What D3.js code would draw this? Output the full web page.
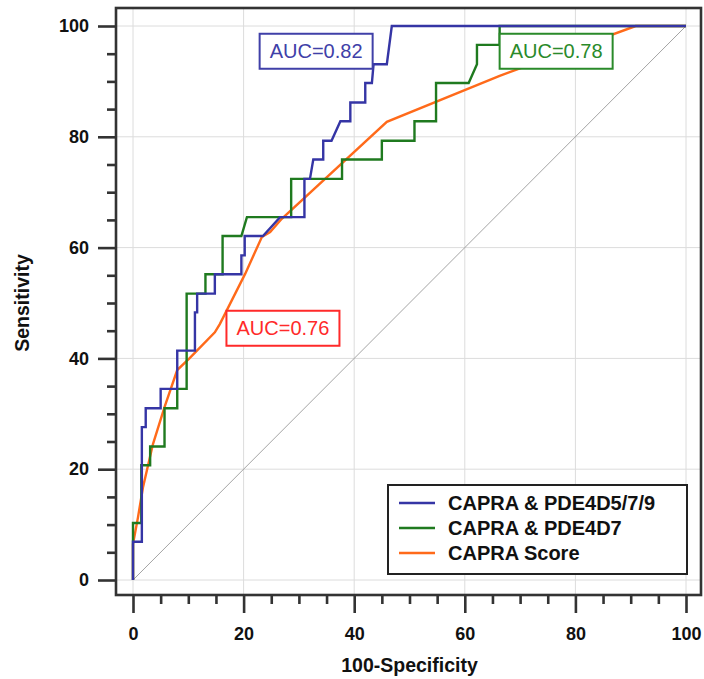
<!DOCTYPE html>
<html>
<head>
<meta charset="utf-8">
<script src="https://cdn.jsdelivr.net/npm/d3@7"></script>
<style>
  html, body { margin: 0; padding: 0; background: #fff; }
  svg { display: block; }
  text { font-family: "Liberation Sans", Arial, Helvetica, sans-serif; }
</style>
</head>
<body>
<svg id="chart" width="704" height="679"></svg>
<script>
// ROC curve coordinates: 100-Specificity (x) and Sensitivity (y), in percent
const pde4d579X = [0, 0, 1.6, 1.6, 2.3, 2.3, 5.0, 5.0, 8.0, 8.0, 11.2, 11.2, 11.6, 11.6, 14.8, 14.8, 19.6, 19.6, 20.2, 20.2, 23.5, 26.6, 31.0, 31.0, 32.0, 32.6, 34.4, 34.4, 35.9, 37.5, 39.3, 39.3, 42.0, 42.0, 43.2, 43.5, 45.9, 46.8, 100];
const pde4d579Y = [0, 6.9, 6.9, 27.6, 27.6, 31.0, 31.0, 34.5, 34.5, 41.4, 41.4, 48.3, 48.3, 51.7, 51.7, 55.2, 55.2, 58.6, 58.6, 62.1, 62.1, 65.5, 65.5, 72.4, 72.4, 75.9, 75.9, 79.3, 79.3, 82.8, 82.8, 86.2, 86.2, 89.7, 89.7, 93.1, 93.1, 100, 100];

const pde4d7X = [0, 0, 1.5, 1.5, 3.1, 3.1, 5.7, 5.7, 8.0, 8.0, 9.7, 9.7, 13.1, 13.1, 16.2, 16.2, 19.6, 20.6, 28.6, 28.6, 37.8, 37.8, 45.0, 45.0, 50.9, 50.9, 54.8, 54.8, 60.7, 62.2, 62.2, 66.3, 66.3, 100];
const pde4d7Y = [0, 10.3, 10.3, 20.7, 20.7, 24.1, 24.1, 31.0, 31.0, 34.5, 34.5, 51.7, 51.7, 55.2, 55.2, 62.1, 62.1, 65.5, 65.5, 72.4, 72.4, 75.9, 75.9, 79.3, 79.3, 82.8, 82.8, 89.7, 89.7, 93.1, 96.6, 96.6, 100, 100];

const capraX = [0, 0, 0.9, 1.8, 3.6, 5.7, 8.0, 10.2, 14.8, 15.7, 20.3, 23.3, 24.8, 26.9, 45.9, 66.3, 90.9, 100];
const capraY = [0, 6.5, 11.3, 16.7, 24.5, 31.2, 37.9, 40.0, 44.7, 46.2, 55.3, 61.9, 62.8, 65.2, 82.7, 91.0, 100, 100];

// Series names, colours and AUC labels
const seriesNames = ["CAPRA & PDE4D5/7/9", "CAPRA & PDE4D7", "CAPRA Score"];
const seriesColors = ["#3535a5", "#1f7a1f", "#ff6a1a"];
const aucLabels = ["AUC=0.82", "AUC=0.78", "AUC=0.76"];
const aucColors = ["#4040a8", "#2a8a2a", "#ff2a2a"];
// anchor of each AUC box (data units: left x, top y)
const aucAnchorX = [22.9, 66.3, 16.9];
const aucAnchorY = [98.6, 98.6, 48.6];

// Axis ticks
const majorTicks = [0, 20, 40, 60, 80, 100];
const minorTicks = [5, 10, 15, 25, 30, 35, 45, 50, 55, 65, 70, 75, 85, 90, 95];

const svg = d3.select("#chart");
const frame = { left: 116, top: 8, right: 701, bottom: 595 };

const x = d3.scaleLinear().domain([0, 100]).range([133, 686]);
const y = d3.scaleLinear().domain([0, 100]).range([580, 26]);

// grid
const grid = svg.append("g").attr("stroke", "#dcdcdc").attr("stroke-width", 1);
grid.selectAll("line.v").data(majorTicks).join("line")
  .attr("x1", d => x(d)).attr("x2", d => x(d))
  .attr("y1", frame.top).attr("y2", frame.bottom);
grid.selectAll("line.h").data(majorTicks).join("line")
  .attr("y1", d => y(d)).attr("y2", d => y(d))
  .attr("x1", frame.left).attr("x2", frame.right);

// reference diagonal
svg.append("line")
  .attr("x1", x(0)).attr("y1", y(0)).attr("x2", x(100)).attr("y2", y(100))
  .attr("stroke", "#9a9a9a").attr("stroke-width", 0.9);

// curves
const line = d3.line().x(d => x(d[0])).y(d => y(d[1]));
const curves = [
  d3.zip(pde4d579X, pde4d579Y),
  d3.zip(pde4d7X, pde4d7Y),
  d3.zip(capraX, capraY)
];
// draw order: orange under green under blue
[2, 1, 0].forEach(i => {
  svg.append("path")
    .datum(curves[i])
    .attr("d", line)
    .attr("fill", "none")
    .attr("stroke", seriesColors[i])
    .attr("stroke-width", 2.4)
    .attr("stroke-linejoin", "miter");
});

// AUC boxes
aucLabels.forEach((lab, i) => {
  const g = svg.append("g");
  const bx = x(aucAnchorX[i]), by = y(aucAnchorY[i]);
  const w = 113, h = 35;
  g.append("rect")
    .attr("x", bx).attr("y", by).attr("width", w).attr("height", h)
    .attr("fill", "#fff").attr("stroke", aucColors[i]).attr("stroke-width", 2);
  g.append("text")
    .attr("x", bx + w / 2).attr("y", by + h / 2)
    .attr("dy", "0.36em")
    .attr("text-anchor", "middle")
    .attr("font-size", 20)
    .attr("fill", aucColors[i])
    .text(lab);
});

// frame
svg.append("rect")
  .attr("x", frame.left).attr("y", frame.top)
  .attr("width", frame.right - frame.left).attr("height", frame.bottom - frame.top)
  .attr("fill", "none").attr("stroke", "#333").attr("stroke-width", 2.6);

// axes
function styleAxis(g) {
  g.select(".domain").remove();
  g.selectAll(".tick line").attr("stroke", "#333").attr("stroke-width", 2.6);
  g.selectAll(".tick text")
    .attr("font-size", 18).attr("font-weight", "bold").attr("fill", "#111")
    .attr("font-family", "'Liberation Sans', Arial, sans-serif");
}

svg.append("g").attr("transform", `translate(${frame.left},0)`)
  .call(d3.axisLeft(y).tickValues(majorTicks).tickSize(18).tickPadding(9).tickFormat(d3.format("d")))
  .call(styleAxis);
svg.append("g").attr("transform", `translate(${frame.left},0)`)
  .call(d3.axisLeft(y).tickValues(minorTicks).tickSize(9).tickFormat(""))
  .call(styleAxis);

svg.append("g").attr("transform", `translate(0,${frame.bottom})`)
  .call(d3.axisBottom(x).tickValues(majorTicks).tickSize(18).tickPadding(14).tickFormat(d3.format("d")))
  .call(styleAxis);
svg.append("g").attr("transform", `translate(0,${frame.bottom})`)
  .call(d3.axisBottom(x).tickValues(minorTicks).tickSize(9).tickFormat(""))
  .call(styleAxis);

// axis titles
svg.append("text")
  .attr("x", (x(0) + x(100)) / 2).attr("y", 672)
  .attr("text-anchor", "middle")
  .attr("font-size", 19.5).attr("font-weight", "bold").attr("fill", "#111")
  .text("100-Specificity");
svg.append("text")
  .attr("transform", `translate(29,${(y(0) + y(100)) / 2}) rotate(-90)`)
  .attr("text-anchor", "middle")
  .attr("font-size", 19.5).attr("font-weight", "bold").attr("fill", "#111")
  .text("Sensitivity");

// legend
const legend = svg.append("g");
legend.append("rect")
  .attr("x", 388).attr("y", 485).attr("width", 299).attr("height", 89)
  .attr("fill", "#fff").attr("stroke", "#222").attr("stroke-width", 2);
const rowY = [503, 528, 553];
seriesNames.forEach((name, i) => {
  legend.append("line")
    .attr("x1", 399).attr("x2", 435).attr("y1", rowY[i]).attr("y2", rowY[i])
    .attr("stroke", seriesColors[i]).attr("stroke-width", 2.4);
  legend.append("text")
    .attr("x", 448).attr("y", rowY[i]).attr("dy", "0.36em")
    .attr("font-size", 20).attr("font-weight", "bold").attr("fill", "#111")
    .text(name);
});
</script>
</body>
</html>
